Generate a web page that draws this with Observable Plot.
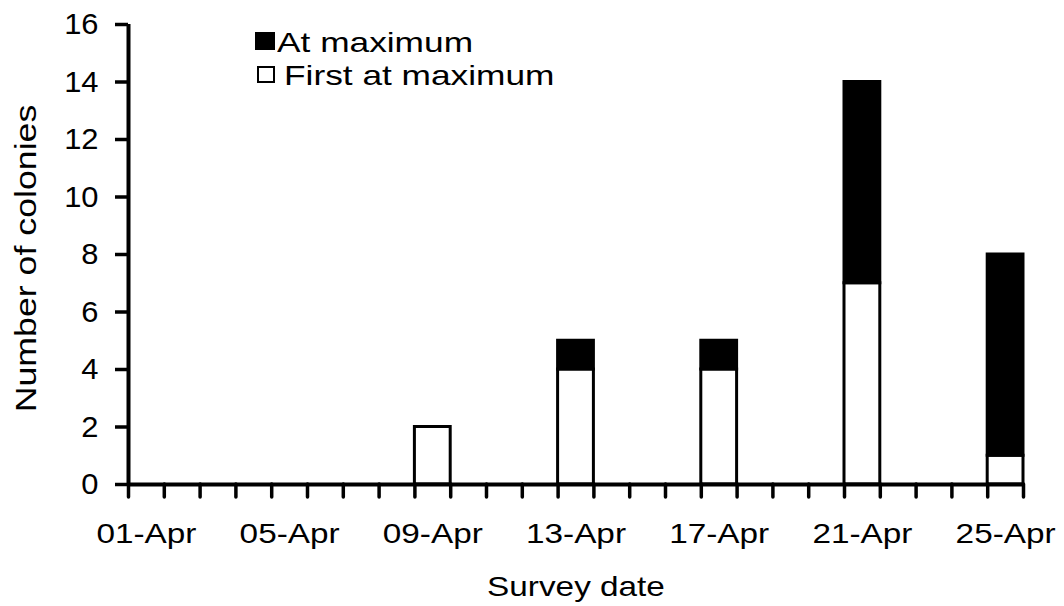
<!DOCTYPE html>
<html>
<head>
<meta charset="utf-8">
<script src="https://cdn.jsdelivr.net/npm/d3@7"></script>
<script src="https://cdn.jsdelivr.net/npm/@observablehq/plot@0.6"></script>
<style>
  html, body { margin: 0; padding: 0; background: #fff; }
  #wrap { position: relative; width: 1064px; height: 606px; font-family: "Liberation Sans", Arial, sans-serif; }
  .lg-sw { position: absolute; box-sizing: border-box; border: 2.5px solid #000; }
  .lg-tx { position: absolute; font-size: 28px; line-height: 28px; color: #000; white-space: nowrap; transform-origin: 0 50%; transform: scaleX(1.26); }
</style>
</head>
<body>
<div id="wrap"></div>
<script>
// Data
const surveyDates = ["09-Apr", "13-Apr", "17-Apr", "21-Apr", "25-Apr"];
const firstAtMaximum = [2, 4, 4, 7, 1];
const atMaximum = [0, 1, 1, 7, 7];
const seriesNames = ["First at maximum", "At maximum"];
const seriesColors = ["white", "black"];
const xTickLabels = ["01-Apr", "05-Apr", "09-Apr", "13-Apr", "17-Apr", "21-Apr", "25-Apr"];
const yTicks = [0, 2, 4, 6, 8, 10, 12, 14, 16];
const dayCount = 25;
const xTitle = "Survey date";
const yTitle = "Number of colonies";

const dayOf = s => parseInt(s, 10);
const table = [];
surveyDates.forEach((d, i) => {
  table.push({date: d, day: dayOf(d), series: seriesNames[0], value: firstAtMaximum[i]});
  table.push({date: d, day: dayOf(d), series: seriesNames[1], value: atMaximum[i]});
});
const rows = table.filter(r => r.value > 0);
const labelPos = xTickLabels.map(s => dayOf(s) - 0.5);

const chart = Plot.plot({
  width: 1064,
  height: 606,
  marginLeft: 128,
  marginRight: 41,
  marginTop: 24,
  marginBottom: 122,
  style: {fontFamily: '"Liberation Sans", Arial, sans-serif', fontSize: "28px", color: "#000", background: "white"},
  x: {domain: [0, dayCount]},
  y: {domain: [0, 16]},
  color: {domain: seriesNames, range: seriesColors},
  marks: [
    Plot.rectY(rows, Plot.stackY({
      x1: r => r.day - 1,
      x2: r => r.day,
      y: "value",
      fill: "series",
      z: "series",
      order: seriesNames,
      stroke: "black",
      strokeWidth: 3
    })),
    Plot.ruleX([0], {stroke: "black", strokeWidth: 4}),
    Plot.ruleY([0], {stroke: "black", strokeWidth: 4}),
    Plot.axisY({ticks: yTicks, tickSize: 13, tickPadding: 17, strokeWidth: 3.5, label: null, fill: "black", fontSize: 30}),
    Plot.axisX({ticks: d3.range(0, dayCount + 1), tickSize: 13, tickFormat: () => "", strokeWidth: 3.5, strokeLinecap: "round", label: null}),
    Plot.axisX({ticks: labelPos, tickSize: 0, tickPadding: 39, tickFormat: d => xTickLabels[Math.round((d - 0.5) / 4)], label: null, fill: "black", fontSize: 28}),
    Plot.text([xTitle], {frameAnchor: "bottom", textAnchor: "middle", lineAnchor: "bottom", dy: 111, fontSize: 28, fill: "black"}),
    Plot.text([yTitle], {frameAnchor: "left", textAnchor: "middle", lineAnchor: "middle", dx: -102, dy: 4, rotate: -90, fontSize: 30, fill: "black"})
  ]
});

// Stretch text along its baseline to match the reference's wide lettering
function stretchText(t, s) {
  const tr = t.getAttribute("transform");
  if (tr && tr.includes("translate")) {
    t.setAttribute("transform", tr + ` scale(${s},1)`);
  } else {
    const x = +(t.getAttribute("x") || 0);
    t.setAttribute("transform", `translate(${x},0) scale(${s},1) translate(${-x},0)` + (tr ? " " + tr : ""));
  }
}
chart.querySelectorAll("text").forEach(t => {
  const s = t.textContent;
  if (xTickLabels.includes(s) || s === xTitle || s === yTitle) stretchText(t, 1.19);
  else if (/^\d+$/.test(s)) stretchText(t, 1.03);
});

const wrap = document.getElementById("wrap");
wrap.appendChild(chart);

// Legend (inside plot area, top left)
const legendItems = [
  {name: seriesNames[1], fill: seriesColors[1], sw: [255, 32, 20, 18], tx: [277, 29]},
  {name: seriesNames[0], fill: seriesColors[0], sw: [257, 66, 18, 17], tx: [284, 62]}
];
legendItems.forEach(it => {
  const sw = document.createElement("div");
  sw.className = "lg-sw";
  Object.assign(sw.style, {left: it.sw[0] + "px", top: it.sw[1] + "px", width: it.sw[2] + "px", height: it.sw[3] + "px", background: it.fill});
  const tx = document.createElement("div");
  tx.className = "lg-tx";
  tx.textContent = it.name;
  Object.assign(tx.style, {left: it.tx[0] + "px", top: it.tx[1] + "px"});
  wrap.appendChild(sw);
  wrap.appendChild(tx);
});
</script>
</body>
</html>
